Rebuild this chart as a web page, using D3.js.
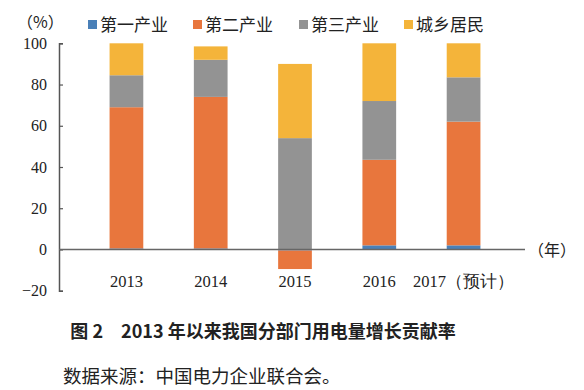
<!DOCTYPE html>
<html>
<head>
<meta charset="utf-8">
<script src="https://cdn.jsdelivr.net/npm/d3@7"></script>
<style>
  body { margin: 0; background: #fff; }
  text { fill: #222; }
</style>
</head>
<body>
<div id="chart"></div>
<script>
const years = ["2013", "2014", "2015", "2016", "2017（预计）"];
const seriesNames = ["第一产业", "第二产业", "第三产业", "城乡居民"];
const primary = [0.5, 0.5, -0.5, 2, 2];
const secondary = [68.5, 73.5, -9, 41.5, 60];
const tertiary = [15.5, 18, 54, 28.5, 21.5];
const residential = [15.5, 6.5, 36, 28, 16.5];
const yTicks = [-20, 0, 20, 40, 60, 80, 100];
const colors = ["#4a80b8", "#e8763d", "#939393", "#f4b43a"];

const width = 584, height = 390;
const numFont = "'Liberation Serif', 'DejaVu Serif', serif";
const cjkFont = "'Noto Sans CJK SC', 'Liberation Serif', serif";

const svg = d3.select("#chart").append("svg")
    .attr("width", width).attr("height", height);

const rows = years.map((y, i) => ({
    year: y,
    [seriesNames[0]]: primary[i],
    [seriesNames[1]]: secondary[i],
    [seriesNames[2]]: tertiary[i],
    [seriesNames[3]]: residential[i]
}));

const stacked = d3.stack()
    .keys(seriesNames)
    .offset(d3.stackOffsetDiverging)(rows);

const x = d3.scaleBand().domain(years).range([59, 531]).padding(0.6);
const y = d3.scaleLinear().domain([-20, 100]).range([290.7, 43.3]);

svg.append("g")
    .selectAll("g")
    .data(stacked)
    .enter().append("g")
    .attr("fill", (d, i) => colors[i])
    .selectAll("rect")
    .data(d => d)
    .enter().append("rect")
    .attr("x", d => x(d.data.year))
    .attr("width", x.bandwidth())
    .attr("y", d => y(Math.max(d[0], d[1])))
    .attr("height", d => Math.abs(y(d[0]) - y(d[1])));

// y axis
const yAxis = svg.append("g")
    .attr("transform", "translate(59,0)")
    .call(d3.axisLeft(y).tickValues(yTicks).tickSize(-4).tickPadding(12));
yAxis.select(".domain").attr("stroke", "#555").attr("stroke-width", 1.5);
yAxis.selectAll(".tick line").attr("stroke", "#555").attr("stroke-width", 1.2);
yAxis.selectAll(".tick text")
    .attr("font-family", numFont).attr("font-size", 16).attr("fill", "#222");

// zero line / x axis
svg.append("line")
    .attr("x1", 59).attr("x2", 525)
    .attr("y1", y(0)).attr("y2", y(0))
    .attr("stroke", "#666").attr("stroke-width", 1.5);

svg.append("g").selectAll("text")
    .data(years)
    .enter().append("text")
    .attr("x", d => x(d) + x.bandwidth() / 2)
    .attr("y", 287)
    .attr("text-anchor", "middle")
    .attr("font-family", numFont)
    .attr("font-size", 16.5)
    .text(d => d);

svg.append("text")
    .attr("x", 528).attr("y", 256)
    .attr("font-family", cjkFont).attr("font-size", 16)
    .text("（年）");

svg.append("text")
    .attr("x", 17).attr("y", 28)
    .attr("font-family", cjkFont).attr("font-size", 16)
    .text("（%）");

// legend
const legendX = [88, 193, 299, 404];
const legend = svg.append("g").selectAll("g")
    .data(seriesNames)
    .enter().append("g")
    .attr("transform", (d, i) => `translate(${legendX[i]},0)`);
legend.append("rect")
    .attr("x", 0).attr("y", 20).attr("width", 9).attr("height", 9)
    .attr("fill", (d, i) => colors[i]);
legend.append("text")
    .attr("x", 12).attr("y", 31)
    .attr("font-family", cjkFont).attr("font-size", 17)
    .text(d => d);

// caption
svg.append("text")
    .attr("x", 263).attr("y", 338)
    .attr("text-anchor", "middle")
    .attr("font-family", cjkFont).attr("font-size", 18).attr("font-weight", "bold")
    .text("图 2　2013 年以来我国分部门用电量增长贡献率");

svg.append("text")
    .attr("x", 63).attr("y", 383)
    .attr("font-family", cjkFont).attr("font-size", 18.5)
    .text("数据来源：中国电力企业联合会。");
</script>
</body>
</html>
